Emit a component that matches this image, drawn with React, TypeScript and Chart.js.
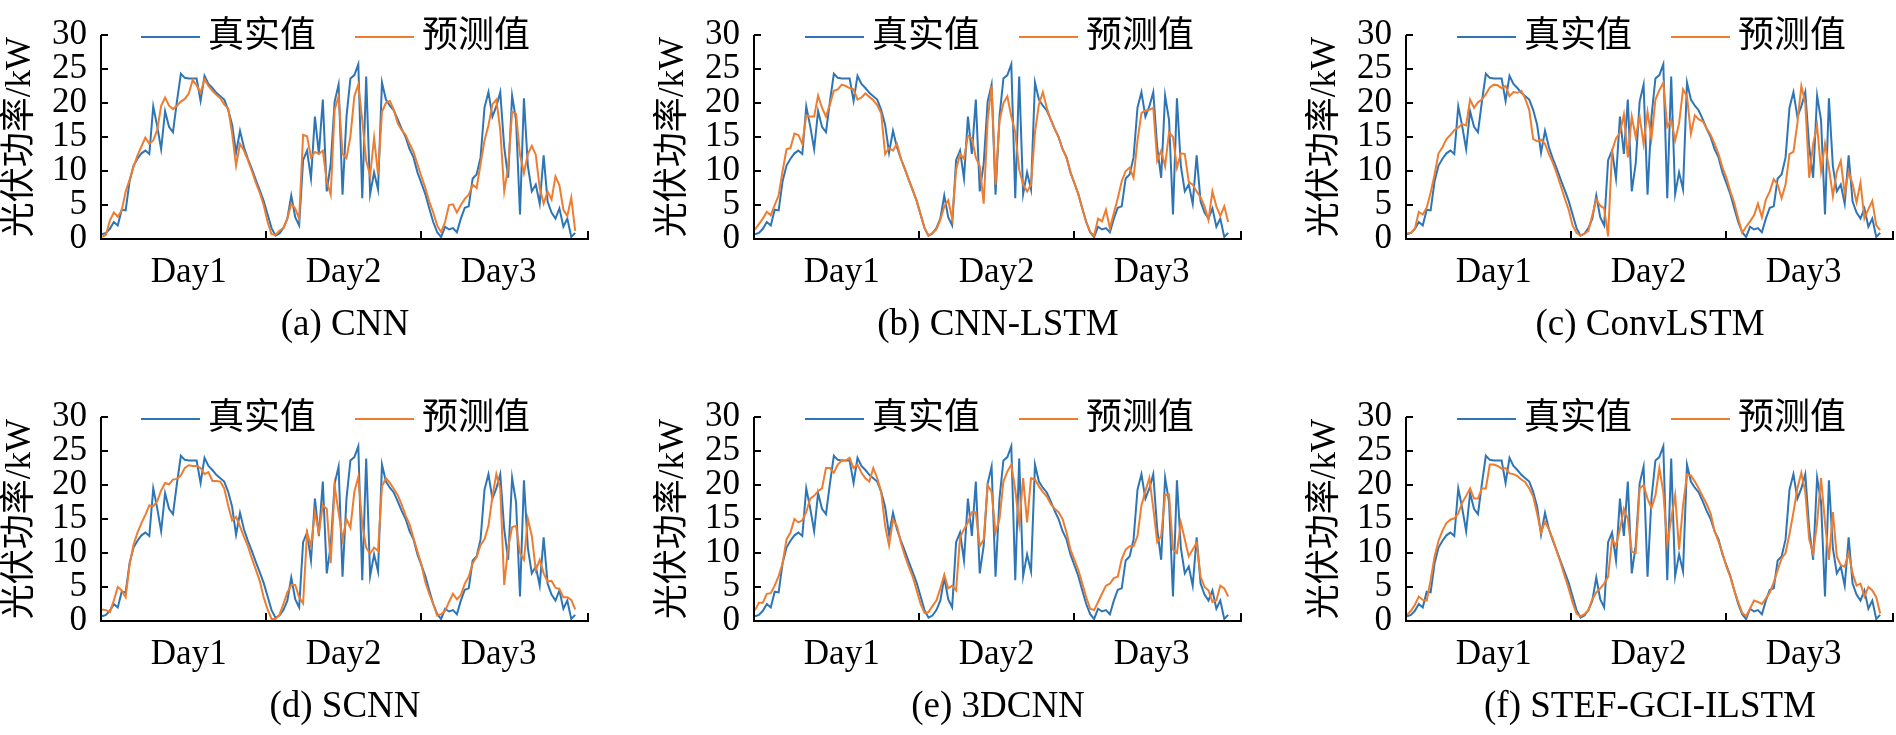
import React, { useEffect, useRef } from 'react';
import { Chart, registerables } from 'chart.js';

Chart.register(...registerables);

// legend names, axis text
const SERIES_NAMES = ['真实值', '预测值'];
const DAY_LABELS = ['Day1', 'Day2', 'Day3'];
const Y_TICKS = [0, 5, 10, 15, 20, 25, 30];
const Y_TITLE = '光伏功率/kW';

// measured power, same in every panel (kW)
const ACTUAL = [
  0.7, 0.9, 1.5, 2.5, 2.0, 4.3, 4.2, 8.5, 10.8, 11.8,
  12.6, 13.0, 12.5, 19.5, 16.6, 13.2, 18.8, 16.5, 15.7, 20.2,
  24.3, 23.7, 23.6, 23.6, 23.6, 20.3, 24.0, 22.8, 22.2, 21.5,
  21.0, 20.5, 19.0, 16.8, 12.7, 15.9, 13.5, 11.8, 10.3, 8.7,
  7.2, 5.6, 3.6, 1.6, 0.5, 0.8, 1.6, 3.0, 6.4, 3.2,
  2.0, 11.6, 13.0, 8.9, 18.0, 12.5, 20.5, 7.0, 11.1, 20.2,
  22.7, 6.5, 18.0, 23.6, 24.1, 25.7, 6.0, 23.9, 6.6, 9.8,
  7.3, 23.0, 20.5, 19.6, 18.9, 17.6, 16.2, 15.0, 13.2, 12.0,
  9.8, 8.2, 6.6, 4.5, 2.5, 1.0, 0.3, 1.8, 1.4, 1.6,
  1.0, 3.0, 4.6, 4.8, 8.9, 9.5, 12.0, 19.3, 21.6, 18.0,
  19.5, 21.6, 13.5, 9.0, 21.1, 17.5, 3.6, 20.7, 10.7, 7.0,
  8.0, 5.2, 12.3, 5.5, 3.9, 3.0, 4.5, 1.8, 3.0, 0.3,
  0.9,
];

const PRED_CNN = [
  0.3, 0.6, 2.7, 3.9, 3.3, 4.2, 7.0, 8.7, 10.6, 12.3,
  13.6, 14.9, 14.0, 14.5, 16.0, 19.6, 20.8, 19.6, 19.1, 19.6,
  20.2, 20.6, 21.4, 23.4, 22.6, 21.5, 23.5, 22.5, 21.8, 21.2,
  20.7, 19.8, 19.2, 15.5, 10.8, 14.0, 13.0, 11.6, 10.0, 8.3,
  6.8, 5.0, 2.5, 0.7, 0.6, 1.2, 1.6, 3.0, 5.2, 4.5,
  3.0, 15.3, 15.1, 12.0, 12.8, 12.5, 13.0, 8.5, 6.5, 19.0,
  21.0, 12.5, 11.9, 15.1, 21.0, 22.7, 17.5, 11.5, 9.3, 14.9,
  9.5, 18.7, 20.0, 20.3, 19.0, 17.0, 16.0, 15.3, 14.0, 12.8,
  11.0, 9.2, 7.5, 5.5, 3.9, 2.0, 1.0, 2.5, 5.0, 5.1,
  3.9, 5.0, 5.9, 6.5, 8.0, 7.5, 11.0, 14.5, 16.7, 19.8,
  20.5, 16.0, 7.0, 10.6, 18.7, 18.4, 12.4, 9.7, 12.5, 13.7,
  12.4, 7.5, 5.2, 7.0, 5.8, 9.2, 7.9, 4.3, 3.4, 6.1,
  1.2,
];

const PRED_CNN_LSTM = [
  1.4, 2.2, 3.0, 4.0, 3.5, 5.0, 6.4, 10.0, 13.2, 13.4,
  15.5, 15.3, 14.0, 18.2, 18.0, 18.0, 21.1, 19.3, 18.0, 19.8,
  21.8, 22.0, 22.7, 22.5, 22.2, 22.0, 20.5, 20.8, 21.4, 20.9,
  20.4, 19.7, 18.5, 12.5, 13.4, 13.0, 14.0, 11.8, 10.3, 8.7,
  7.2, 5.6, 3.6, 1.6, 0.5, 0.9, 1.4, 2.8, 4.8, 5.7,
  3.0, 10.2, 12.5, 11.8, 15.2, 14.8, 12.0, 10.7, 5.2, 17.5,
  22.5, 8.0, 17.3, 20.0, 21.0, 18.0, 15.7, 10.2, 8.0, 7.0,
  8.0, 15.7, 19.8, 21.6, 19.3, 17.5, 16.2, 15.0, 13.2, 12.0,
  9.8, 8.2, 6.6, 4.5, 2.5, 1.0, 0.5, 3.0, 2.6, 4.3,
  1.6, 3.8, 6.0, 8.5, 10.0, 10.5, 9.0, 14.5, 18.5, 18.9,
  19.0, 19.3, 11.5, 13.0, 10.7, 15.7, 15.0, 10.5, 12.6, 12.5,
  8.4, 8.0, 7.0, 6.1, 4.8, 2.8, 7.0, 4.8, 3.4, 4.8,
  2.5,
];

const PRED_CONVLSTM = [
  0.8, 0.9, 1.5, 4.0, 3.6, 4.6, 6.8, 9.5, 12.6, 13.5,
  14.7, 15.3, 16.0, 16.4, 16.9, 16.7, 20.5, 19.3, 20.1, 20.5,
  21.3, 22.3, 22.7, 22.6, 22.2, 22.5, 21.0, 21.6, 21.5, 21.8,
  20.6, 19.0, 14.7, 14.4, 14.6, 14.0, 12.5, 11.2, 9.6, 7.8,
  6.0, 4.3, 2.0, 0.9, 0.5, 0.8, 1.2, 3.5, 5.8, 4.9,
  4.5, 0.4, 13.0, 14.8, 15.6, 18.3, 12.0, 18.0, 15.0, 18.0,
  14.0, 18.7, 14.8, 20.5, 21.9, 23.0, 16.5, 17.5, 14.5, 17.0,
  22.0, 21.0, 15.5, 18.2, 17.6, 17.3, 16.3, 15.3, 14.0, 12.5,
  10.5, 9.0, 7.0, 5.3, 3.0, 0.9, 1.8, 2.6, 3.5, 5.2,
  3.2, 5.8, 7.0, 8.8, 8.0, 6.0, 8.0, 12.5, 12.8, 17.0,
  22.5, 20.0, 9.0, 14.0, 16.7, 10.0, 14.0, 10.5, 6.3, 9.9,
  11.5, 6.7, 9.9, 8.1, 5.4, 8.3, 3.0, 4.4, 5.6, 2.0,
  1.3,
];

const PRED_SCNN = [
  1.7, 1.6, 1.3, 3.0, 5.0, 4.5, 3.5, 8.3, 11.2, 13.0,
  14.4, 15.6, 17.0, 16.9, 17.6, 19.2, 20.3, 20.1, 20.8, 20.9,
  21.4, 22.5, 22.9, 22.8, 22.8, 22.5, 21.6, 21.9, 20.6, 20.6,
  20.5, 19.5, 17.0, 14.8, 15.3, 13.9, 12.4, 11.0, 9.2, 7.6,
  5.9, 3.5, 1.7, 0.3, 0.3, 0.9, 2.5, 4.2, 5.3, 5.3,
  3.5, 2.6, 13.0, 11.0, 16.0, 13.0, 17.0, 16.5, 8.5, 19.8,
  16.0, 12.0, 15.0, 13.7, 19.0, 21.2, 14.2, 10.8, 9.9, 10.8,
  10.3, 19.8, 21.0, 20.3, 19.4, 18.5, 17.1, 15.5, 14.2, 12.2,
  10.2, 8.3, 5.7, 4.0, 2.5, 0.8, 1.0, 1.5, 2.8, 4.0,
  3.2, 3.8, 5.5, 6.5, 8.5, 9.4, 11.2, 12.0, 14.0, 18.3,
  21.6, 19.5, 5.3, 10.8, 13.8, 14.0, 10.0, 9.0, 15.0, 12.5,
  7.5, 9.0, 7.0, 5.8, 5.9, 4.9, 4.7, 3.5, 3.5, 3.1,
  1.7,
];

const PRED_3DCNN = [
  1.6, 2.7, 2.7, 4.0, 4.1, 5.2, 6.6, 8.5, 12.0, 13.0,
  15.0, 14.5, 14.8, 16.0, 18.0, 18.4, 19.1, 19.5, 22.5, 22.5,
  21.8, 23.0, 23.6, 23.6, 24.0, 22.5, 23.0, 21.8, 21.0, 20.5,
  22.5, 21.0, 19.0, 14.0, 11.1, 14.9, 14.0, 11.5, 9.6, 8.0,
  6.5, 4.5, 2.5, 1.2, 1.3, 2.2, 3.0, 4.8, 6.8, 4.8,
  5.2, 4.5, 12.3, 13.5, 14.5, 16.0, 16.0, 11.0, 12.0, 20.0,
  19.0, 13.0, 15.0, 20.5, 22.0, 23.0, 19.3, 14.3, 21.0, 14.5,
  21.0, 20.8, 19.8, 19.0, 18.3, 17.2, 16.5, 16.0, 15.0, 13.0,
  10.5, 9.0, 7.5, 5.5, 3.5, 1.8, 1.6, 2.8, 4.0, 5.2,
  5.5, 6.3, 6.5, 9.1, 10.5, 11.0, 11.0, 12.5, 17.0, 19.1,
  21.0, 16.6, 11.6, 12.5, 18.5, 18.6, 10.5, 10.0, 14.5, 12.0,
  9.5, 10.5, 11.5, 6.5, 5.0, 4.5, 2.8, 3.0, 5.2, 4.8,
  3.6,
];

const PRED_STEF = [
  0.9, 1.5, 2.4, 3.6, 3.1, 3.0, 6.0, 9.5, 11.8, 13.3,
  14.4, 14.9, 15.1, 15.8, 17.4, 18.4, 19.5, 18.0, 18.0, 19.5,
  19.5, 23.0, 23.0, 22.8, 22.4, 22.5, 21.7, 21.6, 21.3, 20.8,
  20.4, 19.5, 18.3, 15.8, 13.0, 14.6, 13.5, 12.0, 10.2, 8.5,
  6.6, 4.8, 2.7, 1.1, 0.7, 1.0, 1.6, 3.2, 4.2, 4.8,
  5.5, 6.5, 12.0, 11.1, 13.5, 16.5, 15.0, 10.2, 10.0, 19.5,
  20.0, 18.0, 16.6, 18.5, 22.5, 19.0, 11.3, 15.0, 18.5, 10.5,
  17.0, 21.5, 21.4, 20.5, 19.5, 18.3, 17.2, 15.8, 13.2, 11.7,
  10.0, 8.0, 6.5, 4.5, 2.8, 1.2, 0.7, 1.8, 3.0, 2.8,
  2.5, 3.3, 4.2, 5.7, 7.5, 9.2, 10.0, 12.8, 16.0, 19.5,
  21.8, 19.0, 12.0, 9.9, 14.5, 21.0, 14.5, 9.0, 16.0, 9.5,
  8.2, 8.0, 10.0, 7.0, 5.2, 5.5, 3.6, 5.0, 4.5, 3.5,
  1.1,
];

const CAPTIONS = ['(a) CNN', '(b) CNN-LSTM', '(c) ConvLSTM', '(d) SCNN', '(e) 3DCNN', '(f) STEF-GCI-ILSTM'];
const PREDICTIONS = [PRED_CNN, PRED_CNN_LSTM, PRED_CONVLSTM, PRED_SCNN, PRED_3DCNN, PRED_STEF];

// x axis in sample units; each day spans DAY_LEN samples
const DAY_START = 2.35;
const DAY_LEN = 39.3;
const X_MIN = -0.25;
const X_MAX = 123.5;

const BLUE = '#2E75B6';
const ORANGE = '#ED7D31';
const SERIF = '"Liberation Serif", "Noto Sans CJK SC", serif';

// page layout
const COL_AXIS = [101, 754, 1406];
const ROW_TOP = [18, 400];
const LEFT_W = 101;
const PLOT_W = 488;
const PLOT_H = 221;
const PAD_TOP = 18;
const PAD_RIGHT = 3;
const LEGEND_X = [40, 51, 51];

const panelPlugin = {
  id: 'panelDecor',
  afterDraw(chart: any, _args: any, opts: any) {
    const { ctx, chartArea } = chart;
    const { left, right, top, bottom } = chartArea;
    const x = chart.scales.x;
    const y = chart.scales.y;
    ctx.save();

    // axes with inward ticks
    ctx.strokeStyle = '#000';
    ctx.lineWidth = 2;
    ctx.beginPath();
    ctx.moveTo(left, top);
    ctx.lineTo(left, bottom);
    ctx.lineTo(right, bottom);
    Y_TICKS.forEach(v => {
      const py = y.getPixelForValue(v);
      ctx.moveTo(left, py);
      ctx.lineTo(left + 7, py);
    });
    const bounds = [DAY_START + DAY_LEN, DAY_START + 2 * DAY_LEN, X_MAX];
    bounds.forEach(v => {
      const px = Math.round(x.getPixelForValue(v)) - (v === X_MAX ? 1 : 0);
      ctx.moveTo(px, bottom);
      ctx.lineTo(px, bottom - 8);
    });
    ctx.stroke();

    // day labels
    ctx.fillStyle = '#000';
    ctx.textAlign = 'center';
    ctx.textBaseline = 'alphabetic';
    ctx.font = `35px ${SERIF}`;
    DAY_LABELS.forEach((d, k) => {
      ctx.fillText(d, x.getPixelForValue(DAY_START + DAY_LEN * (k + 0.5)), bottom + 43);
    });

    // caption
    ctx.font = `37px ${SERIF}`;
    ctx.fillText(opts.caption, (left + right) / 2, bottom + 96);

    // legend inside the top of the plot
    ctx.font = `36px ${SERIF}`;
    ctx.textAlign = 'left';
    ctx.textBaseline = 'middle';
    ctx.lineWidth = 2;
    const colors = [BLUE, ORANGE];
    SERIES_NAMES.forEach((name, k) => {
      const lx = left + opts.legendX + k * 214;
      ctx.strokeStyle = colors[k];
      ctx.beginPath();
      ctx.moveTo(lx, top + 2);
      ctx.lineTo(lx + 59, top + 2);
      ctx.stroke();
      ctx.fillText(name, lx + 67, top + 3);
    });

    ctx.restore();
  },
};

interface PanelProps {
  index: number;
}

const Panel: React.FC<PanelProps> = ({ index }) => {
  const canvasRef = useRef<HTMLCanvasElement | null>(null);
  const col = index % 3;
  const row = Math.floor(index / 3);
  const width = LEFT_W + PLOT_W + PAD_RIGHT;
  const height = row === 0 ? 350 : 353;

  useEffect(() => {
    if (!canvasRef.current) return;
    const ctx = canvasRef.current.getContext('2d');
    if (!ctx) return;

    const toPoints = (arr: number[]) => arr.map((v, i) => ({ x: i, y: v }));

    const chart = new Chart(ctx, {
      type: 'line',
      data: {
        datasets: [
          {
            label: SERIES_NAMES[0],
            data: toPoints(ACTUAL),
            borderColor: BLUE,
            borderWidth: 2,
            pointRadius: 0,
            tension: 0,
            order: 1,
          },
          {
            label: SERIES_NAMES[1],
            data: toPoints(PREDICTIONS[index]),
            borderColor: ORANGE,
            borderWidth: 2,
            pointRadius: 0,
            tension: 0,
            order: 0,
          },
        ],
      },
      options: {
        responsive: false,
        animation: false,
        layout: { padding: { left: 0, top: PAD_TOP, right: PAD_RIGHT, bottom: height - PAD_TOP - PLOT_H } },
        scales: {
          x: { type: 'linear', display: false, min: X_MIN, max: X_MAX },
          y: {
            min: 0,
            max: 30,
            afterBuildTicks: (scale: any) => {
              scale.ticks = Y_TICKS.map(v => ({ value: v }));
            },
            afterFit: (scale: any) => {
              scale.width = LEFT_W;
            },
            grid: { display: false, drawTicks: false },
            border: { display: false },
            ticks: {
              autoSkip: false,
              color: '#000',
              padding: 14,
              font: { family: 'Liberation Serif', size: 35 },
            },
            title: {
              display: true,
              text: Y_TITLE,
              color: '#000',
              padding: 0,
              font: { family: SERIF, size: 35 },
            },
          },
        },
        plugins: {
          legend: { display: false },
          tooltip: { enabled: false },
          panelDecor: { caption: CAPTIONS[index], legendX: LEGEND_X[col] },
        } as any,
      },
      plugins: [panelPlugin],
    });

    return () => {
      chart.destroy();
    };
  }, [index]);

  return (
    <canvas
      ref={canvasRef}
      width={width}
      height={height}
      style={{
        position: 'absolute',
        left: COL_AXIS[col] - LEFT_W,
        top: ROW_TOP[row] - PAD_TOP,
        width,
        height,
      }}
    />
  );
};

export default function App() {
  return (
    <div
      style={{
        position: 'absolute',
        left: 0,
        top: 0,
        width: 1896,
        height: 735,
        overflow: 'hidden',
        background: '#fff',
      }}
    >
      {CAPTIONS.map((_, i) => (
        <Panel key={i} index={i} />
      ))}
    </div>
  );
}
